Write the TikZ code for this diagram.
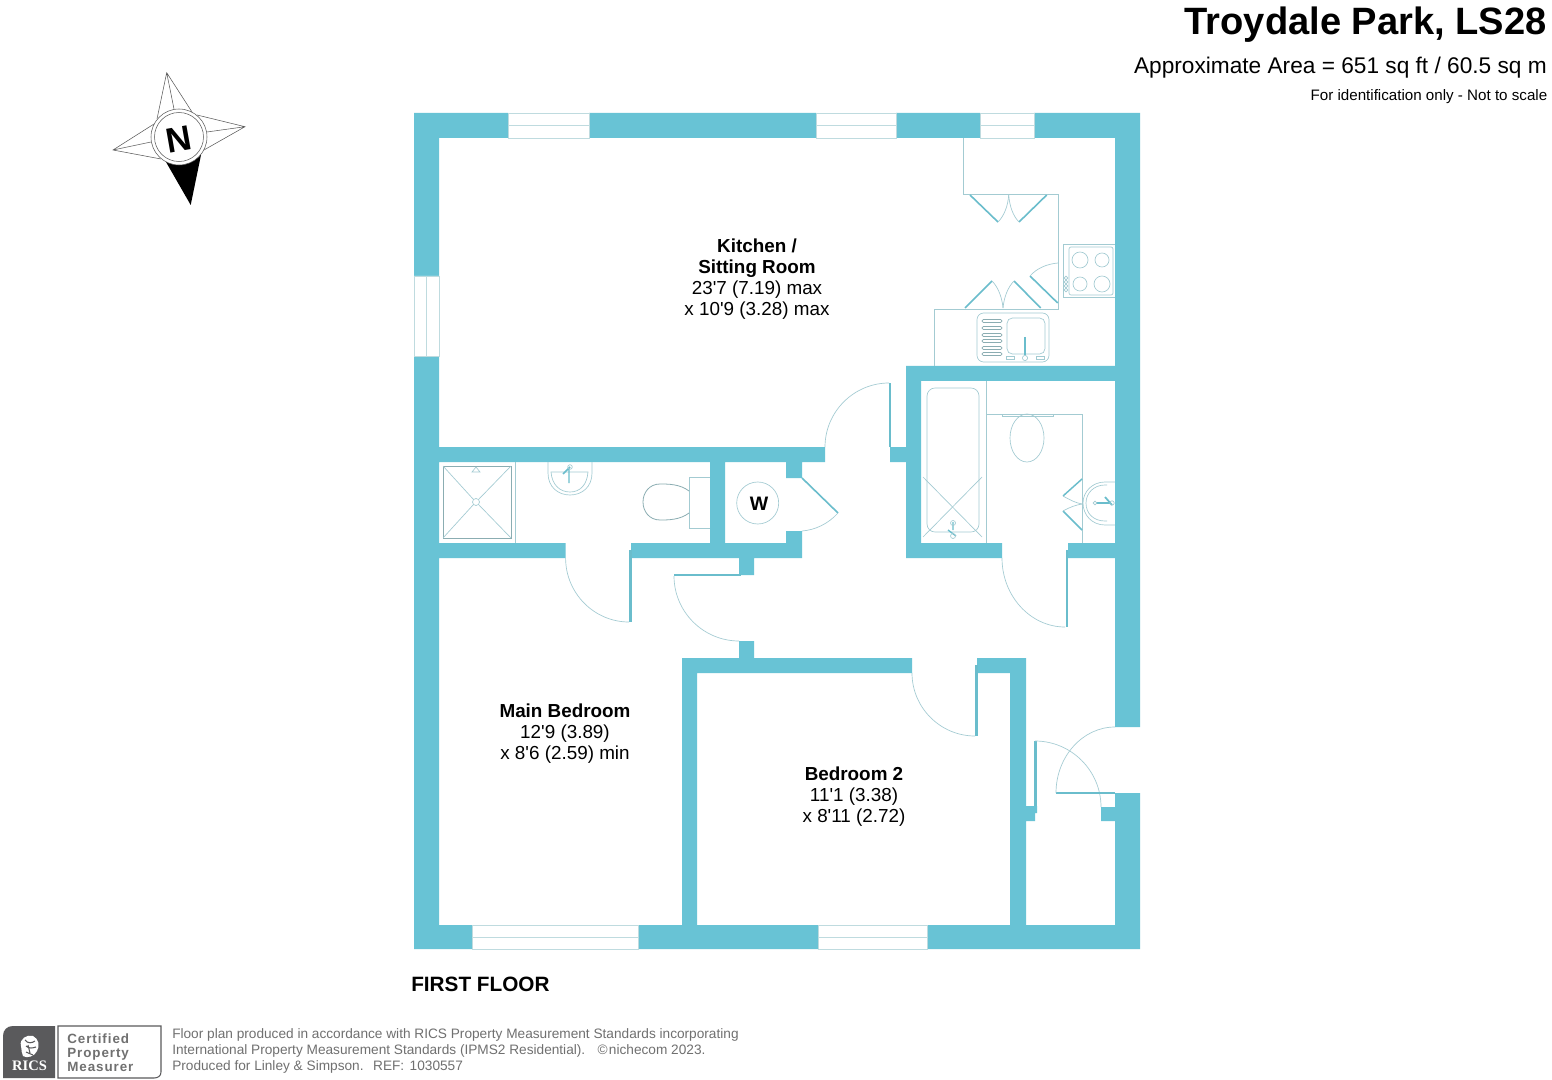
\documentclass[tikz,border=0pt]{standalone}
\usepackage{fontspec}
\setmainfont{Liberation Sans}
\newfontfamily\certf[LetterSpace=7]{Liberation Sans}
\newfontfamily\ricsf{Liberation Serif}
\definecolor{wallc}{HTML}{68C3D5}
\definecolor{fixc}{HTML}{A3CBD2}
\definecolor{leafc}{HTML}{6ABDCC}
\definecolor{footc}{HTML}{707070}
\definecolor{ricsc}{HTML}{5A5A5C}
\newcommand\fs[1]{\fontsize{\dimexpr#1pt*3/4\relax}{\dimexpr#1pt\relax}\selectfont}
\newcommand\qarc[6]{\draw[doorarc] (#1,#2) .. controls ({#1+.55*(#3-#5)},{#2+.55*(#4-#6)}) and ({#3+.55*(#1-#5)},{#4+.55*(#2-#6)}) .. (#3,#4);}
\tikzset{
  wall/.style={fill=wallc},
  fixture/.style={draw=fixc,line width=.5pt},
  fixdark/.style={draw=fixc!85!black,line width=.6pt},
  doorarc/.style={draw=fixc,line width=.5pt},
  leaf/.style={draw=leafc,line width=1.7pt,line cap=butt},
  window/.style={draw=fixc!70!white,line width=.35pt,fill=white},
  room/.style={align=center,inner sep=0pt,anchor=base,font=\fs{18.85}},
  foot/.style={inner sep=0pt,anchor=base west,text=footc,font=\fs{13.66}},
  compass/.style={draw=black!65,line width=.4pt},
  cert/.style={inner sep=0pt,anchor=base west,text=footc,font=\certf\bfseries\fs{13.4}},
}
\begin{document}
\begin{tikzpicture}[x=0.75pt,y=-0.75pt]
\useasboundingbox (0,0) rectangle (1552,1080);
\fill[white] (0,0) rectangle (1552,1080);
% walls
\fill[wall]
  (414,113) rectangle (508,138) (589,113) rectangle (816,138)
  (896,113) rectangle (980,138) (1034,113) rectangle (1140,138)
  (414,113) rectangle (439,276) (414,356) rectangle (439,949)
  (414,925) rectangle (472,949) (638,925) rectangle (818,949)
  (927,925) rectangle (1140,949)
  (1115,113) rectangle (1140,727) (1115,793) rectangle (1140,949)
  (439,447) rectangle (825,462)
  (439,543) rectangle (565.6,558) (631,543) rectangle (802,558)
  (710,462) rectangle (725,543)
  (786,462) rectangle (802,478) (786,531) rectangle (802,543)
  (739,558) rectangle (754,575) (739,641) rectangle (754,658)
  (682,658) rectangle (912,673) (977,658) rectangle (1026,673)
  (682,658) rectangle (697,925) (1010,658) rectangle (1026,925)
  (906,366) rectangle (1115,381) (906,366) rectangle (921,558)
  (906,543) rectangle (1002,558) (1068,543) rectangle (1115,558)
  (890,447) rectangle (906,462)
  (1026,806) rectangle (1037,813) (1026,813) rectangle (1035,821)
  (1101,807) rectangle (1115,821);
% windows
\draw[window] (508,113) rectangle (589,138) (508,125.5) -- (589,125.5);
\draw[window] (816,113) rectangle (896,138) (816,125.5) -- (896,125.5);
\draw[window] (980,113) rectangle (1034,138) (980,125.5) -- (1034,125.5);
\draw[window] (414,276) rectangle (439,356) (426.5,276) -- (426.5,356);
\draw[window] (472,925) rectangle (638,949) (472,937) -- (638,937);
\draw[window] (818,925) rectangle (927,949) (818,937) -- (927,937);
% door leaves and swings
\draw[leaf] (630.5,550) -- (630.5,622);  \qarc{565.6}{558}{629}{622}{629}{558}
\draw[leaf] (674,575) -- (741,575);      \qarc{674}{576}{739}{641}{739}{576}
\draw[leaf] (890,383) -- (890,447);      \qarc{889}{383}{825}{447}{889}{447}
\draw[leaf] (1067,550) -- (1067,627);    \qarc{1002}{558}{1065}{627}{1065}{558}
\draw[leaf] (976.5,665) -- (976.5,736);  \qarc{912}{673}{975}{736}{975}{673}
\draw[leaf] (1035.5,741) -- (1035.5,806); \qarc{1035}{741}{1101}{807}{1035}{807}
\draw[leaf] (1056,793) -- (1115,793);    \qarc{1115}{727}{1056}{793}{1115}{793}
\draw[leaf,line width=1.2pt] (802,478) -- (838,513);
\draw[doorarc] (838,513) .. controls (828,524) and (815,530) .. (802,531);
% kitchen units
\draw[fixture] (963.3,138) -- (963.3,194) -- (1058.7,194) -- (1058.7,309) -- (934,309) -- (934,366);
\draw[leaf,line width=1.2pt] (970,195) -- (998,222);
\draw[leaf,line width=1.2pt] (1046.7,195) -- (1019,222);
\draw[leaf,line width=1.2pt] (965,308) -- (992,281);
\draw[leaf,line width=1.2pt] (1040.7,308) -- (1014,281);
\draw[leaf,line width=1.2pt] (1057.7,303) -- (1030,276);
\draw[doorarc] (998,222) .. controls (1004,216) and (1008,206) .. (1008.7,195);
\draw[doorarc] (1019,222) .. controls (1013,216) and (1009.5,206) .. (1008.7,195);
\draw[doorarc] (992,281) .. controls (998,287) and (1002,297) .. (1003,308);
\draw[doorarc] (1014,281) .. controls (1008,287) and (1004,297) .. (1003,308);
\draw[doorarc] (1030,276) .. controls (1037,268) and (1047,264) .. (1058,263);
% hob
\draw[fixture] (1115,244) -- (1063,244) -- (1063,297) -- (1115,297);
\draw[fixture,rounded corners=1.5pt] (1069,247) rectangle (1113,295);
\draw[fixture] (1080,260) circle[radius=8] (1102,260) circle[radius=7] (1080,284) circle[radius=7] (1102,284) circle[radius=8];
\draw[fixture] (1066,278) circle[radius=1.8] (1066,282) circle[radius=1.8] (1066,286) circle[radius=1.8] (1066,290) circle[radius=1.8];
% sink
\draw[fixture,rounded corners=5pt] (977,313) rectangle (1049,362);
\draw[fixture,rounded corners=4pt] (1007,318) rectangle (1045,354);
\foreach \yy in {321,328,335,341,348,354}
  \draw[fixdark,rounded corners=1pt] (982,\yy-1.5) rectangle (1002,\yy+1.5);
\draw[leaf,line width=1.2pt] (1025,337) -- (1025,355);
\draw[fixture] (1025,358) circle[radius=2.6];
\draw[fixture] (1006,356.5) rectangle (1014,359.5) (1036,356.5) rectangle (1044,359.5);
% bathroom
\draw[fixture] (986.7,381) -- (986.7,543);
\draw[fixture] (987,414) -- (1082,414) -- (1082,543);
\draw[fixture,rounded corners=6pt] (927,388) rectangle (979,532);
\draw[fixture] (923,477) -- (982,537) (982,477) -- (923,537);
\draw[leaf,line width=1pt] (953,522) -- (953,530) (948,530) -- (956,536);
\draw[fixture] (953,523) circle[radius=2.5] (953,536) circle[radius=2.5];
\draw[fixture] (1002,414) rectangle (1053,416);
\draw[fixture] (1027,438) ellipse[x radius=17,y radius=24];
\draw[leaf,line width=1.1pt] (1082,479) -- (1063,496);
\draw[leaf,line width=1.1pt] (1082,530) -- (1063,511);
\draw[doorarc] (1063,496) .. controls (1070,500) and (1076,503) .. (1082,504);
\draw[doorarc] (1063,511) .. controls (1070,507) and (1076,505) .. (1082,504);
\draw[fixture] (1115,482) -- (1105,482) .. controls (1092,482) and (1083,492) .. (1083,503) .. controls (1083,515) and (1092,525) .. (1105,525) -- (1115,525);
\draw[fixture] (1107,485) -- (1105,485) .. controls (1094,485) and (1086,493) .. (1086,503) .. controls (1086,514) and (1094,521) .. (1105,521) -- (1107,521);
\draw[leaf,line width=1.3pt] (1096,503) -- (1110,503) (1105,497) -- (1112,505);
\draw[fixture] (1095,503) circle[radius=1.8] (1112,503) circle[radius=2.2];
% shower room
\draw[fixdark,line width=.7pt] (443,466) rectangle (511,538);
\draw[fixture] (515,462) -- (515,543);
\draw[fixture] (443,466) -- (473.5,499.5) (511,466) -- (478.5,499.5) (443,538) -- (473.5,504.5) (511,538) -- (478.5,504.5);
\draw[fixture] (476,502) circle[radius=3.5];
\draw[fixture] (472,472) -- (480,472) -- (476,467) -- cycle;
\draw[fixture] (548,462) -- (548,473) .. controls (548,487) and (558,495) .. (570,495) .. controls (582,495) and (592,487) .. (592,473) -- (592,462);
\draw[fixture] (551,472) .. controls (552,485) and (560,492) .. (570,492) .. controls (580,492) and (587,485) .. (588,472) -- cycle;
\draw[leaf,line width=1.1pt] (569,468) -- (569,483) (563,474) -- (570,467);
\draw[fixture] (570,467) circle[radius=2.3];
% en-suite WC
\draw[fixture] (710,477) -- (689,477) -- (689,528) -- (710,528);
\draw[fixdark] (689,491) .. controls (680,484) and (668,484) .. (660,484) .. controls (649,484) and (643,493) .. (643,502) .. controls (643,511) and (649,520) .. (660,520) .. controls (668,520) and (680,520) .. (689,513);
\draw[fixture] (757.7,503) circle[radius=21];
\node[inner sep=0pt,font=\bfseries\fs{19.5}] (wlabel) at (759,503.5) {W};
% labels
\node[room] (kitchen) at (757,253) {\textbf{Kitchen /}};
\node[room] (sitting) at (757,274) {\textbf{Sitting Room}};
\node[room] (kitchena) at (757,295) {23\textquotesingle7 (7.19) max};
\node[room] (kitchenb) at (757,316) {x 10\textquotesingle9 (3.28) max};
\node[room] (mainbed) at (565,717) {\textbf{Main Bedroom}};
\node[room] (mainbeda) at (565,738) {12\textquotesingle9 (3.89)};
\node[room] (mainbedb) at (565,759) {x 8\textquotesingle6 (2.59) min};
\node[room] (bedtwo) at (854,780) {\textbf{Bedroom 2}};
\node[room] (bedtwoa) at (854,801) {11\textquotesingle1 (3.38)};
\node[room] (bedtwob) at (854,822) {x 8\textquotesingle11 (2.72)};
\node[inner sep=0pt,anchor=base west,font=\bfseries\fs{20.75}] (floor) at (411,991) {FIRST FLOOR};
% title
\node[inner sep=0pt,anchor=base east,font=\bfseries\fs{38.1}] (title) at (1547,35) {Troydale Park, LS28};
\node[inner sep=0pt,anchor=base east,font=\fs{22.67}] (area) at (1547,74) {Approximate Area = 651 sq ft / 60.5 sq m};
\node[inner sep=0pt,anchor=base east,font=\fs{15.15}] (scale) at (1547.5,100.5) {For identification only - Not to scale};
% compass
\draw[compass] (157,119) -- (166.7,72.7) -- (192,112) (166.7,72.7) -- (174,109);
\draw[compass] (197,115) -- (245,126.7) -- (204,150) (245,126.7) -- (207,132);
\draw[compass] (161,159) -- (113,150) -- (154,124) (113,150) -- (151,142);
\fill[black] (201,155) -- (190.7,205) -- (166,162) -- cycle;
\draw[compass,fill=white] (179,137) circle[radius=28];
\draw[compass] (179,137) circle[radius=24.5];
\node[inner sep=0pt,rotate=10,font=\bfseries\fs{35}] (north) at (179,139) {N};
% RICS badge
\fill[ricsc] (3,1078) -- (3,1036) .. controls (3,1030) and (7,1026) .. (13,1026) -- (55,1026) -- (55,1078) -- cycle;
\draw[draw=ricsc,line width=.8pt] (58,1026) -- (161,1026) -- (161,1072) .. controls (161,1076) and (158,1078) .. (154,1078) -- (58,1078) -- cycle;
\fill[white] (21,1046) .. controls (19,1039) and (27,1034) .. (33,1036) .. controls (39,1039) and (40,1046) .. (37,1051) .. controls (35,1056) and (27,1059) .. (23,1056) .. controls (21,1053) and (22,1050) .. (21,1046) -- cycle;
\draw[ricsc,line width=.8pt] (25,1040) .. controls (28,1044) and (32,1043) .. (35,1041) (26,1046) .. controls (29,1049) and (33,1048) .. (36,1047) (26,1052) -- (33,1055) (28,1045) -- (30,1053);
\node[inner sep=0pt,anchor=base,text=white,font=\ricsf\bfseries\fs{14.5}] (rics) at (29.5,1070) {RICS};
\node[cert] (certa) at (67,1043) {Certified};
\node[cert] (certb) at (67,1057) {Property};
\node[cert] (certc) at (67,1071) {Measurer};
% footer
\node[foot] (fa) at (172,1038) {Floor plan produced in accordance with RICS Property Measurement Standards incorporating};
\node[foot] (fb) at (172,1054) {International Property Measurement Standards (IPMS2 Residential).\hspace{.9em}©\hspace{.1em}nichecom 2023.};
\node[foot] (fc) at (172,1070) {Produced for Linley \& Simpson.\hspace{.7em}REF:\hspace{.4em}1030557};
\end{tikzpicture}
\end{document}
